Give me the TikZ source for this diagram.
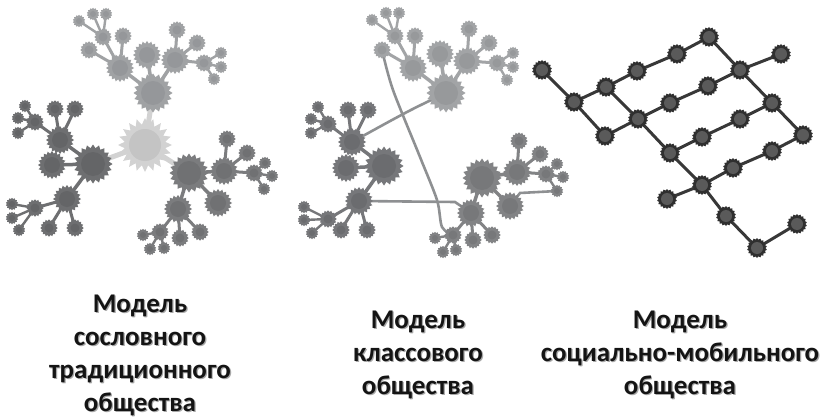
\documentclass[tikz,border=0pt]{standalone}
\usepackage{fontspec}
\setmainfont{Carlito}
\usetikzlibrary{shapes.geometric,backgrounds}

\definecolor{ctrout}{HTML}{D2D2D2}
\definecolor{ctrin}{HTML}{C4C4C4}
\definecolor{ltop}{HTML}{A0A2A4}
\definecolor{ltopin}{HTML}{95979A}
\definecolor{lleft}{HTML}{6E6F71}
\definecolor{lleftin}{HTML}{646567}
\definecolor{lright}{HTML}{7B7C7E}
\definecolor{lrightin}{HTML}{707173}
\definecolor{mtop}{HTML}{A2A4A6}
\definecolor{mtopin}{HTML}{97999B}
\definecolor{mleft}{HTML}{76777A}
\definecolor{mleftin}{HTML}{6B6C6F}
\definecolor{mright}{HTML}{828385}
\definecolor{mrightin}{HTML}{77787A}
\definecolor{crossline}{HTML}{8E9092}
\definecolor{gridout}{HTML}{2F2F2F}
\definecolor{gridin}{HTML}{5A5A5A}
\definecolor{gridline}{HTML}{383838}
\definecolor{captext}{HTML}{141414}
\definecolor{capshade}{HTML}{A8A8A8}

\tikzset{
  grp/.code 2 args={\colorlet{outc}{#1}\colorlet{inc}{#2}},
  spike/.style={star, star points=20, star point ratio=1.22, inner sep=0pt, draw=none, fill=outc},
  big/.style={spike, minimum size=54pt, star point ratio=1.32,
    path picture={\fill[inc] (path picture bounding box.center) circle (16pt);}},
  hub/.style={spike, minimum size=39pt,
    path picture={\fill[inc] (path picture bounding box.center) circle (12pt);}},
  sub/.style={spike, minimum size=28pt,
    path picture={\fill[inc] (path picture bounding box.center) circle (8pt);}},
  twig/.style={spike, star points=16, minimum size=17.5pt,
    path picture={\fill[inc] (path picture bounding box.center) circle (4.5pt);}},
  leaf/.style={spike, star points=14, minimum size=12.5pt,
    path picture={\fill[inc] (path picture bounding box.center) circle (3pt);}},
  knot/.style={spike, star points=18, star point ratio=1.18, minimum size=20pt,
    path picture={\fill[inc] (path picture bounding box.center) circle (6pt);}},
  caption/.style={align=center, text=captext, font=\fontsize{27}{33}\selectfont\bfseries, inner sep=0pt},
  capshadow/.style={caption, text=capshade},
}

\begin{document}
\begin{tikzpicture}[x=1pt, y=-1pt, line cap=round]

% traditional
\node[grp={ctrout}{ctrin}, big] (Lc) at (145,145) {};
\begin{scope}[grp={ltop}{ltopin}]
  \node[hub] (Lt) at (153,93) {};
  \node[sub] (Lta) at (120,68) {}; \node[sub] (Ltb) at (147,55) {}; \node[sub] (Ltc) at (175,60) {};
  \node[twig] (Lta1) at (103,37) {}; \node[twig] (Lta2) at (123,36) {}; \node[twig] (Lta3) at (89,50) {};
  \node[leaf] (Lta1x) at (79,21) {}; \node[leaf] (Lta1y) at (93,14) {}; \node[leaf] (Lta1z) at (106,14) {};
  \node[twig] (Ltc1) at (204,63) {}; \node[twig] (Ltc2) at (177,30) {}; \node[twig] (Ltc3) at (197,43) {};
  \node[leaf] (Ltc1x) at (221,53) {}; \node[leaf] (Ltc1y) at (221,67) {}; \node[leaf] (Ltc1z) at (214,79) {};
\end{scope}
\begin{scope}[grp={lleft}{lleftin}]
  \node[hub] (Ll) at (93,164) {};
  \node[sub] (Lla) at (60,140) {}; \node[sub] (Llb) at (52,165) {}; \node[sub] (Llc) at (67,199) {};
  \node[twig] (Lla1) at (35,122) {}; \node[twig] (Lla2) at (55,109) {}; \node[twig] (Lla3) at (75,109) {};
  \node[leaf] (Lla1x) at (25,106) {}; \node[leaf] (Lla1y) at (18,118) {}; \node[leaf] (Lla1z) at (18,133) {};
  \node[twig] (Llc1) at (35,208) {}; \node[twig] (Llc2) at (49,228) {}; \node[twig] (Llc3) at (75,228) {};
  \node[leaf] (Llc1x) at (12,204) {}; \node[leaf] (Llc1y) at (12,218) {}; \node[leaf] (Llc1z) at (19,230) {};
\end{scope}
\begin{scope}[grp={lright}{lrightin}]
  \node[hub] (Lr) at (189,173) {};
  \node[sub] (Lra) at (224,171) {}; \node[sub] (Lrb) at (218,203) {}; \node[sub] (Lrc) at (178,209) {};
  \node[twig] (Lra1) at (254,173) {}; \node[twig] (Lra2) at (227,139) {}; \node[twig] (Lra3) at (247,153) {};
  \node[leaf] (Lra1x) at (265,163) {}; \node[leaf] (Lra1y) at (272,176) {}; \node[leaf] (Lra1z) at (264,189) {};
  \node[twig] (Lrc1) at (160,232) {}; \node[twig] (Lrc2) at (180,238) {}; \node[twig] (Lrc3) at (200,232) {};
  \node[leaf] (Lrc1x) at (143,235) {}; \node[leaf] (Lrc1y) at (150,249) {}; \node[leaf] (Lrc1z) at (164,248) {};
\end{scope}

% class
\begin{scope}[grp={mtop}{mtopin}]
  \node[hub] (Mt) at (446,93) {};
  \node[sub] (Mta) at (413,68) {}; \node[sub] (Mtb) at (440,54) {}; \node[sub] (Mtc) at (467,61) {};
  \node[twig] (Mta1) at (395,36) {}; \node[twig] (Mta2) at (415,36) {}; \node[twig] (Mta3) at (382,50) {};
  \node[leaf] (Mta1x) at (372,20) {}; \node[leaf] (Mta1y) at (386,13) {}; \node[leaf] (Mta1z) at (399,13) {};
  \node[twig] (Mtc1) at (497,63) {}; \node[twig] (Mtc2) at (469,29) {}; \node[twig] (Mtc3) at (489,43) {};
  \node[leaf] (Mtc1x) at (513,53) {}; \node[leaf] (Mtc1y) at (513,67) {}; \node[leaf] (Mtc1z) at (507,80) {};
\end{scope}
\begin{scope}[grp={mleft}{mleftin}]
  \node[hub] (Ml) at (384,166) {};
  \node[sub] (Mla) at (352,142) {}; \node[sub] (Mlb) at (346,168) {}; \node[sub] (Mlc) at (359,201) {};
  \node[twig] (Mla1) at (328,124) {}; \node[twig] (Mla2) at (348,110) {}; \node[twig] (Mla3) at (368,110) {};
  \node[leaf] (Mla1x) at (318,107) {}; \node[leaf] (Mla1y) at (311,119) {}; \node[leaf] (Mla1z) at (311,133) {};
  \node[twig] (Mlc1) at (328,219) {}; \node[twig] (Mlc2) at (341,230) {}; \node[twig] (Mlc3) at (367,230) {};
  \node[leaf] (Mlc1x) at (304,207) {}; \node[leaf] (Mlc1y) at (304,220) {}; \node[leaf] (Mlc1z) at (312,233) {};
\end{scope}
\begin{scope}[grp={mright}{mrightin}]
  \node[hub] (Mr) at (482,178) {};
  \node[sub] (Mra) at (517,172) {}; \node[sub] (Mrb) at (510,206) {}; \node[sub] (Mrc) at (471,213) {};
  \node[twig] (Mra1) at (546,174) {}; \node[twig] (Mra2) at (519,141) {}; \node[twig] (Mra3) at (540,154) {};
  \node[leaf] (Mra1x) at (557,164) {}; \node[leaf] (Mra1y) at (563,177) {}; \node[leaf] (Mra1z) at (557,191) {};
  \node[twig] (Mrc1) at (453,235) {}; \node[twig] (Mrc2) at (473,240) {}; \node[twig] (Mrc3) at (492,235) {};
  \node[leaf] (Mrc1x) at (435,238) {}; \node[leaf] (Mrc1y) at (443,252) {}; \node[leaf] (Mrc1z) at (456,250) {};
\end{scope}

% mobile
\begin{scope}[grp={gridout}{gridin}]
  \node[knot] (RA) at (542,70) {};  \node[knot] (RB) at (574,102) {}; \node[knot] (RC) at (606,87) {};
  \node[knot] (RD) at (637,71) {};  \node[knot] (RE) at (677,54) {};  \node[knot] (RF) at (709,37) {};
  \node[knot] (RG) at (740,70) {};  \node[knot] (RH) at (781,54) {};  \node[knot] (RI) at (605,136) {};
  \node[knot] (RJ) at (638,119) {}; \node[knot] (RK) at (670,103) {}; \node[knot] (RL) at (708,86) {};
  \node[knot] (RM) at (772,103) {}; \node[knot] (RN) at (670,153) {}; \node[knot] (RO) at (702,137) {};
  \node[knot] (RP) at (740,119) {}; \node[knot] (RQ) at (803,135) {}; \node[knot] (RR) at (702,185) {};
  \node[knot] (RS) at (733,168) {}; \node[knot] (RT) at (772,151) {}; \node[knot] (RU) at (667,199) {};
  \node[knot] (RV) at (726,216) {}; \node[knot] (RW) at (757,248) {}; \node[knot] (RX) at (797,224) {};
\end{scope}

\begin{scope}[on background layer]
  \path[fill=white, use as bounding box] (0,0) rectangle (835,420);
  \draw[ctrout, line width=5pt] (Lc.center) edge (Lt.center) edge (Ll.center) edge (Lr.center);
  \foreach \p/\col in {Lt/ltop, Ll/lleft, Lr/lright, Mt/mtop, Ml/mleft, Mr/mright}{
    \draw[\col, line width=3.5pt] (\p.center) edge (\p a.center) edge (\p b.center) edge (\p c.center);
    \draw[\col, line width=3pt] (\p a.center) edge (\p a1.center) edge (\p a2.center) edge (\p a3.center)
      (\p c.center) edge (\p c1.center) edge (\p c2.center) edge (\p c3.center);
    \draw[\col, line width=2.4pt] (\p a1.center) edge (\p a1x.center) edge (\p a1y.center) edge (\p a1z.center)
      (\p c1.center) edge (\p c1x.center) edge (\p c1y.center) edge (\p c1z.center);
  }
  \draw[crossline, line width=2.6pt] (Mt.center) .. controls (410,110) .. (Mla.center);
  \draw[crossline, line width=2.6pt] plot[smooth] coordinates {(Mta3.center) (393,90) (420,157) (437,200) (442,227) (Mrc1.center)};
  \draw[crossline, line width=2.6pt] (Mlc.center) -- (455,202) -- (Mrc.center);
  \draw[crossline, line width=2.6pt] (Mrb.center) -- (520,193) -- (Mra1z.center);
  \draw[gridline, line width=3pt, line join=round]
    (RA.center) -- (RB.center) -- (RC.center) -- (RD.center) -- (RE.center) -- (RF.center) -- (RG.center) -- (RH.center)
    (RB.center) -- (RI.center) -- (RJ.center) -- (RK.center) -- (RL.center) -- (RG.center) -- (RM.center) -- (RQ.center)
    (RC.center) -- (RJ.center) -- (RN.center) -- (RR.center) -- (RV.center) -- (RW.center) -- (RX.center)
    (RN.center) -- (RO.center) -- (RP.center) -- (RM.center)
    (RU.center) -- (RR.center) -- (RS.center) -- (RT.center) -- (RQ.center);
\end{scope}

\node[capshadow] (cap1s) at (141.2,356.2) {Модель\\сословного\\традиционного\\общества};
\node[caption] (cap1) at (140,355) {Модель\\сословного\\традиционного\\общества};
\node[capshadow] (cap2s) at (419.2,356.2) {Модель\\классового\\общества};
\node[caption] (cap2) at (418,355) {Модель\\классового\\общества};
\node[capshadow] (cap3s) at (681.2,356.2) {Модель\\социально-мобильного\\общества};
\node[caption] (cap3) at (680,355) {Модель\\социально-мобильного\\общества};
\end{tikzpicture}
\end{document}
